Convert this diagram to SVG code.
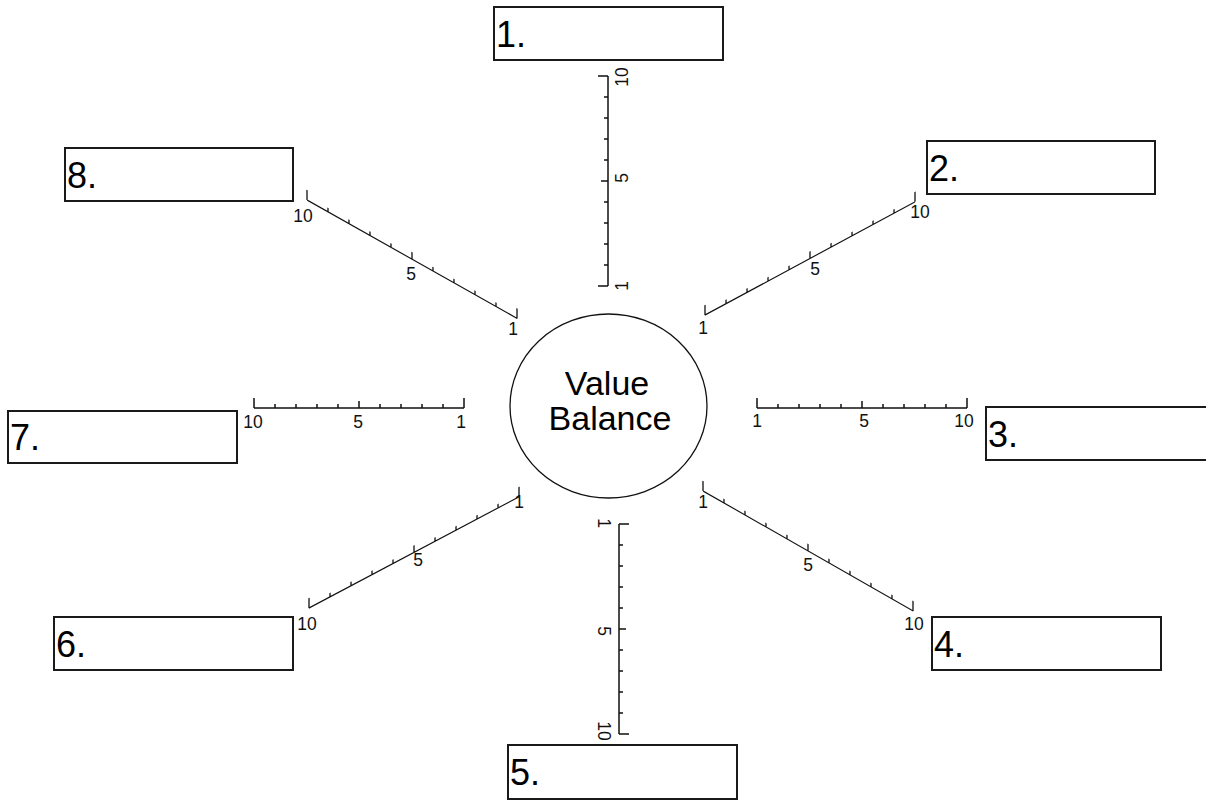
<svg xmlns="http://www.w3.org/2000/svg" width="1206" height="800" viewBox="0 0 1206 800">
<style>
.box{fill:#fff;stroke:#1a1a1a;stroke-width:2}
.bt{font-family:"Liberation Sans",Arial,sans-serif;font-size:36px;fill:#000}
.sl{font-family:"Liberation Sans",Arial,sans-serif;font-size:17.5px;fill:#111;text-anchor:middle}
.sc{fill:none;stroke:#111;stroke-width:1.5}
.sd{fill:none;stroke:#111;stroke-width:1.3}
.ct{font-family:"Liberation Sans",Arial,sans-serif;font-size:34px;fill:#000;text-anchor:middle}
</style>
<defs>
<path id="scale" d="M0,0 H210 M0,0 V-10 M210,0 V-10 M105,0 V-7 M21,0 V-4 M42,0 V-4 M63,0 V-4 M84,0 V-4 M126,0 V-4 M147,0 V-4 M168,0 V-4 M189,0 V-4"/>
</defs>
<rect width="1206" height="800" fill="#fff"/>
<g id="connectors">
<use href="#scale" class="sc" transform="translate(608,286) rotate(-90)"/>
<use href="#scale" class="sd" transform="translate(705,315) skewY(-28.3)"/>
<use href="#scale" class="sc" transform="translate(757,408)"/>
<use href="#scale" class="sd" transform="translate(703,491) skewY(29.7)"/>
<use href="#scale" class="sc" transform="translate(619,524) rotate(90)"/>
<use href="#scale" class="sd" transform="translate(309,608) skewY(-27.9)"/>
<use href="#scale" class="sc" transform="translate(254,408)"/>
<use href="#scale" class="sd" transform="translate(307,200) skewY(29.4)"/>
<g id="labels">
<text class="sl" transform="translate(628,77) rotate(-90)">10</text>
<text class="sl" transform="translate(628,178) rotate(-90)">5</text>
<text class="sl" transform="translate(628,286) rotate(-90)">1</text>
<text class="sl" x="703" y="334">1</text>
<text class="sl" x="815" y="275">5</text>
<text class="sl" x="920" y="218">10</text>
<text class="sl" x="757" y="427">1</text>
<text class="sl" x="864" y="427">5</text>
<text class="sl" x="964" y="427">10</text>
<text class="sl" x="703" y="508">1</text>
<text class="sl" x="808" y="571">5</text>
<text class="sl" x="914" y="630">10</text>
<text class="sl" transform="translate(598,523) rotate(90)">1</text>
<text class="sl" transform="translate(598,631) rotate(90)">5</text>
<text class="sl" transform="translate(598,731) rotate(90)">10</text>
<text class="sl" x="519" y="508">1</text>
<text class="sl" x="418" y="566">5</text>
<text class="sl" x="307" y="630">10</text>
<text class="sl" x="253" y="428">10</text>
<text class="sl" x="358" y="428">5</text>
<text class="sl" x="461" y="428">1</text>
<text class="sl" x="303" y="222">10</text>
<text class="sl" x="411" y="280">5</text>
<text class="sl" x="513" y="335">1</text>
</g>
</g>
<g id="center">
<ellipse cx="608.5" cy="406" rx="98.5" ry="92" fill="#fff" stroke="#111" stroke-width="1.3"/>
<text class="ct" x="607" y="395">Value</text>
<text class="ct" x="610" y="430">Balance</text>
</g>
<g id="n1"><rect class="box" x="494" y="7" width="229" height="53"/><text class="bt" x="496" y="47">1.</text></g>
<g id="n2"><rect class="box" x="927" y="141" width="228" height="53"/><text class="bt" x="929" y="181">2.</text></g>
<g id="n3"><rect class="box" x="986" y="407" width="230" height="53"/><text class="bt" x="988" y="447">3.</text></g>
<g id="n4"><rect class="box" x="932" y="617" width="229" height="53"/><text class="bt" x="934" y="657">4.</text></g>
<g id="n5"><rect class="box" x="508" y="745" width="229" height="54"/><text class="bt" x="510" y="785">5.</text></g>
<g id="n6"><rect class="box" x="54" y="617" width="239" height="53"/><text class="bt" x="56" y="657">6.</text></g>
<g id="n7"><rect class="box" x="8" y="411" width="229" height="52"/><text class="bt" x="10" y="450">7.</text></g>
<g id="n8"><rect class="box" x="65" y="148" width="228" height="53"/><text class="bt" x="67" y="188">8.</text></g>
</svg>
